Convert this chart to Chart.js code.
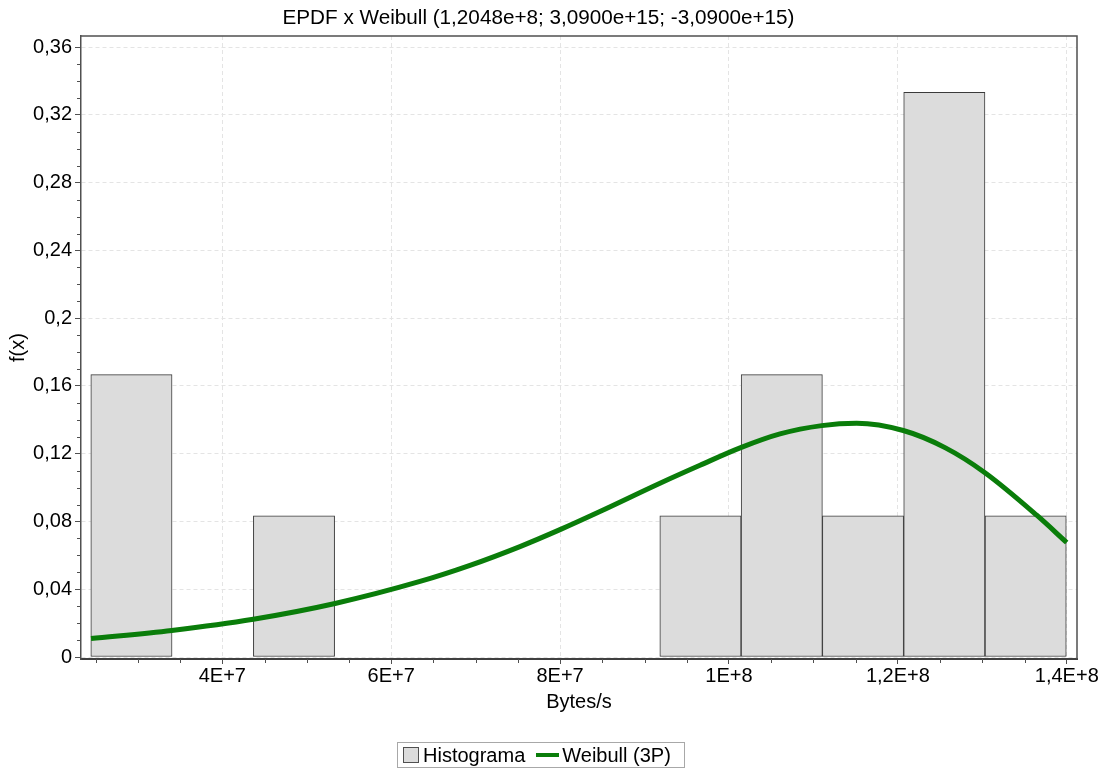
<!DOCTYPE html>
<html>
<head>
<meta charset="utf-8">
<title>EPDF x Weibull</title>
<script src="https://cdn.jsdelivr.net/npm/chart.js@4.4.1/dist/chart.umd.min.js"></script>
<style>
    html, body { margin: 0; padding: 0; background: #fff; }
    #wrap { position: relative; width: 1108px; height: 771px; }
    #legend {
        position: absolute; left: 397px; top: 742px; width: 288px; height: 26px;
        box-sizing: border-box; border: 1px solid #a8a8a8;
        display: flex; align-items: center; padding: 0 0 0 5px;
        font: 20px "Liberation Sans", Arial, sans-serif; color: #000; white-space: nowrap;
    }
    #legend .box { width: 16px; height: 16px; box-sizing: border-box; border: 1px solid #505050; background: #dcdcdc; margin-right: 4px; }
    #legend .line { width: 23px; height: 4px; background: #0a7d0a; margin: 0 3px 0 11px; }
</style>
</head>
<body>
<div id="wrap">
    <canvas id="chart" width="1108" height="771"></canvas>
    <div id="legend"></div>
</div>
<script>
// histogram bins (centres in Bytes/s) and relative frequencies
const binCenters = [2.924e7, 3.886e7, 4.849e7, 5.811e7, 6.774e7, 7.737e7, 8.699e7, 9.662e7, 1.0625e8, 1.1587e8, 1.2550e8, 1.3513e8];
const binFreq = [0.1667, 0, 0.0833, 0, 0, 0, 0, 0.0833, 0.1667, 0.0833, 0.3333, 0.0833];

// fitted Weibull (3P) curve
const weibullX = [2.445e7, 3.401e7, 4.367e7, 5.335e7, 6.341e7, 6.933e7, 7.525e7, 7.999e7, 8.472e7, 9.183e7, 9.657e7, 1.0139e8, 1.0604e8, 1.1098e8, 1.1512e8, 1.2064e8, 1.2558e8, 1.3031e8, 1.3644e8, 1.3999e8];
const weibullY = [0.0109, 0.0157, 0.0223, 0.0316, 0.0446, 0.0541, 0.0652, 0.0752, 0.0859, 0.1026, 0.1132, 0.1236, 0.1317, 0.1366, 0.1380, 0.1337, 0.1236, 0.1088, 0.0837, 0.0676];

const xTicks = [4e7, 6e7, 8e7, 1e8, 1.2e8, 1.4e8];
const xTickLabels = ['4E+7', '6E+7', '8E+7', '1E+8', '1,2E+8', '1,4E+8'];
const yTicks = [0, 0.04, 0.08, 0.12, 0.16, 0.2, 0.24, 0.28, 0.32, 0.36];
const yTickLabels = ['0', '0,04', '0,08', '0,12', '0,16', '0,2', '0,24', '0,28', '0,32', '0,36'];

const titleText = 'EPDF x Weibull (1,2048e+8; 3,0900e+15; -3,0900e+15)';

Chart.defaults.font.family = '"Liberation Sans", Arial, sans-serif';
Chart.defaults.font.size = 20;
Chart.defaults.color = '#000';

const axisColor = '#505050';
const gridColor = '#e4e4e4';

// minor tick marks + top/right frame of the plot area
const framePlugin = {
    id: 'frame',
    afterDraw(chart) {
        const { ctx, chartArea: a, scales: { x, y } } = chart;
        ctx.save();
        ctx.strokeStyle = axisColor;
        ctx.lineWidth = 1;
        ctx.beginPath();
        for (let v = 2.5e7; v <= x.max; v += 5e6) {
            if (xTicks.some(t => Math.abs(t - v) < 1)) continue;
            const px = Math.round(x.getPixelForValue(v)) + 0.5;
            ctx.moveTo(px, a.bottom);
            ctx.lineTo(px, a.bottom + 4);
        }
        for (let i = 1; i <= 36; i++) {
            if (i % 4 === 0) continue;
            const py = Math.round(y.getPixelForValue(i / 100)) + 0.5;
            ctx.moveTo(a.left - 4, py);
            ctx.lineTo(a.left, py);
        }
        ctx.stroke();

        ctx.lineWidth = 1.5;
        ctx.beginPath();
        ctx.moveTo(a.left, a.top);
        ctx.lineTo(a.right, a.top);
        ctx.lineTo(a.right, a.bottom);
        ctx.stroke();
        ctx.restore();
    }
};

const chart = new Chart(document.getElementById('chart'), {
    data: {
        datasets: [
            {
                type: 'line',
                label: 'Weibull (3P)',
                data: weibullX.map((x, i) => ({ x, y: weibullY[i] })),
                borderColor: '#0a7d0a',
                borderWidth: 5,
                pointRadius: 0,
                cubicInterpolationMode: 'monotone',
                order: 0,
            },
            {
                type: 'bar',
                label: 'Histograma',
                data: binCenters.map((x, i) => ({ x, y: binFreq[i] })),
                backgroundColor: '#dcdcdc',
                borderColor: '#3a3a3a',
                borderWidth: 1,
                borderSkipped: false,
                barPercentage: 1,
                categoryPercentage: 1,
                order: 1,
            },
        ],
    },
    options: {
        responsive: false,
        animation: false,
        devicePixelRatio: 1,
        layout: { padding: { left: 0, right: 31, top: 0, bottom: 52 } },
        plugins: {
            legend: { display: false },
            tooltip: { enabled: false },
            title: {
                display: true,
                text: titleText,
                font: { size: 20.7, weight: 'normal' },
                padding: { top: 5.6, bottom: 5.6 },
            },
        },
        scales: {
            x: {
                type: 'linear',
                offset: false,
                min: 2.3268e7,
                max: 1.4121e8,
                afterBuildTicks: (axis) => { axis.ticks = xTicks.map(v => ({ value: v })); },
                afterFit: (scale) => { scale.height = 60; },
                ticks: {
                    padding: 0,
                    maxRotation: 0,
                    callback: (v, i) => xTickLabels[i],
                },
                grid: { offset: false, color: gridColor, tickColor: axisColor, tickLength: 5, tickWidth: 1, tickBorderDash: [] },
                border: { color: '#404040', width: 2, dash: [4, 3] },
                title: { display: true, text: 'Bytes/s', padding: { top: 0, bottom: 5 } },
            },
            y: {
                type: 'linear',
                min: -0.00118,
                max: 0.36659,
                afterBuildTicks: (axis) => { axis.ticks = yTicks.map(v => ({ value: v })); },
                afterFit: (scale) => { scale.width = 81; },
                ticks: {
                    padding: 3,
                    callback: (v, i) => yTickLabels[i],
                },
                grid: { color: gridColor, tickColor: axisColor, tickLength: 6, tickWidth: 1, tickBorderDash: [] },
                border: { color: axisColor, width: 1.5, dash: [4, 3] },
                title: { display: true, text: 'f(x)', padding: { top: 6, bottom: 0 } },
            },
        },
    },
    plugins: [framePlugin],
});

// legend box below the chart, built from the datasets
const legendEl = document.getElementById('legend');
const hist = chart.data.datasets[1];
const weib = chart.data.datasets[0];
legendEl.innerHTML =
    '<span class="box"></span><span>' + hist.label + '</span>' +
    '<span class="line"></span><span>' + weib.label + '</span>';
</script>
</body>
</html>
